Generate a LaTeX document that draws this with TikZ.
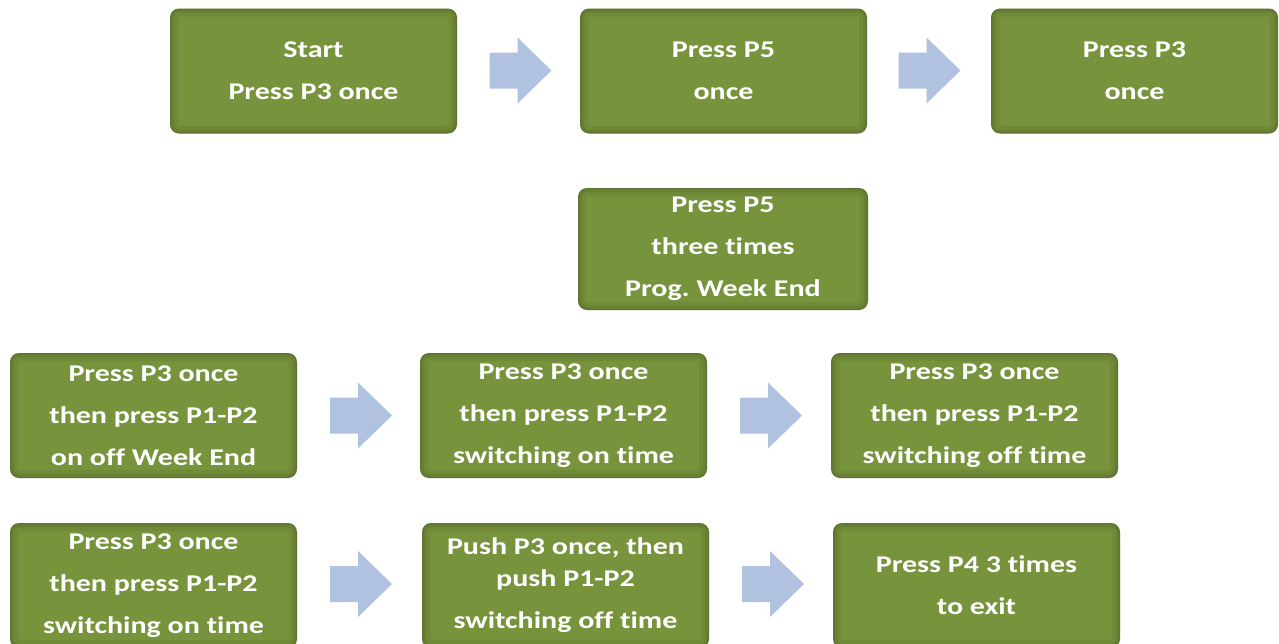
\documentclass[tikz,border=0pt]{standalone}
\usepackage{fontspec}
\setmainfont{Carlito}[FakeStretch=1.25, RawFeature={-liga;-clig;-dlig;-calt}]
\definecolor{boxgreen}{HTML}{77933C}
\definecolor{arrowblue}{HTML}{B0C2DF}
\tikzset{
  greenbox/.style={rounded corners=9pt, fill=boxgreen, text=white, align=center,
    minimum width=287pt, minimum height=125pt, inner sep=0pt,
    font=\bfseries\fontsize{24}{42}\selectfont,
    path picture={
      \draw[black, opacity=0.06, line width=16pt, rounded corners=9pt]
        (path picture bounding box.south west) rectangle (path picture bounding box.north east);
      \draw[black, opacity=0.07, line width=8pt, rounded corners=9pt]
        (path picture bounding box.south west) rectangle (path picture bounding box.north east);
      \draw[black, opacity=0.08, line width=3pt, rounded corners=9pt]
        (path picture bounding box.south west) rectangle (path picture bounding box.north east);
    }},
  blockarrow/.style={fill=arrowblue}
}
\newcommand\blockarrowat[1]{%
  \fill[blockarrow] (#1) ++(-31,-18) -- ++(28,0) -- ++(0,-15) -- ++(34,33)
    -- ++(-34,33) -- ++(0,-15) -- ++(-28,0) -- cycle;}
\begin{document}
\frenchspacing
\begin{tikzpicture}[x=1pt,y=-1pt]
\useasboundingbox (0,0) rectangle (1279,643);
% row 1
\node[greenbox] (b1) at (313.5,71) {Start\\Press P3 once};
\node[greenbox] (b2) at (723.5,71) {Press P5\\once};
\node[greenbox] (b3) at (1134.5,71) {Press P3\\once};
\coordinate (a1) at (520.5,70.5);
\coordinate (a2) at (929.5,70.5);
\blockarrowat{a1}
\blockarrowat{a2}
% row 2
\node[greenbox, minimum width=290pt, minimum height=122pt] (b4) at (723,249) {Press P5\\three times\\Prog. Week End};
% row 3
\node[greenbox] (b5) at (153.5,415.5) {Press P3 once\\then press P1-P2\\on off Week End};
\node[greenbox] (b6) at (563.5,415.5) {Press P3 once\\then press P1-P2\\switching on time};
\node[greenbox] (b7) at (974.5,415.5) {Press P3 once\\then press P1-P2\\switching off time};
\coordinate (a3) at (361,415.5);
\coordinate (a4) at (771,415.5);
\blockarrowat{a3}
\blockarrowat{a4}
% row 4
\node[greenbox] (b8) at (153.5,585.5) {Press P3 once\\then press P1-P2\\switching on time};
\node[greenbox] (b9) at (565.5,585.5) {Push P3 once, then\\[-10pt]push P1-P2\\switching off time};
\node[greenbox] (b10) at (976.5,585.5) {Press P4 3 times\\to exit};
\coordinate (a5) at (361,584);
\coordinate (a6) at (773,584);
\blockarrowat{a5}
\blockarrowat{a6}
\end{tikzpicture}
\end{document}
